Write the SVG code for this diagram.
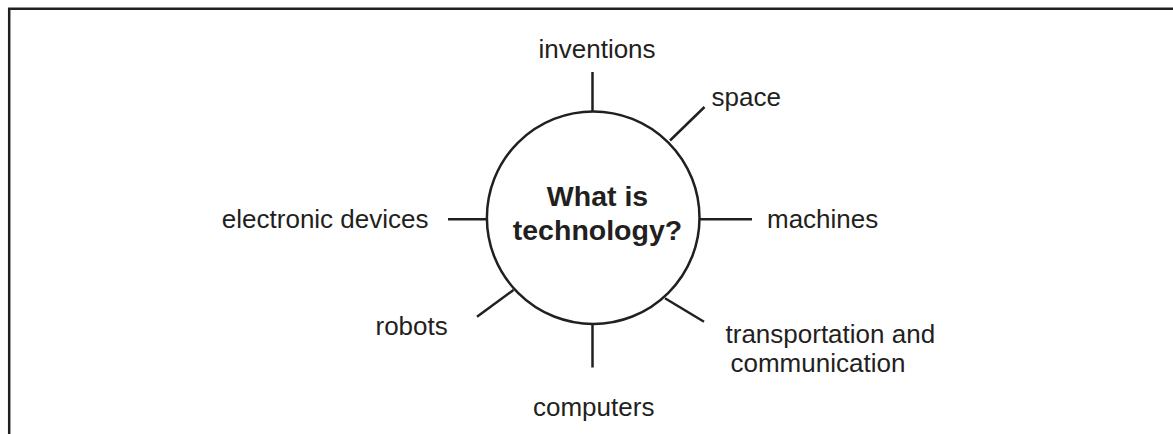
<svg xmlns="http://www.w3.org/2000/svg" width="1173" height="434" viewBox="0 0 1173 434">
<style>
.ln{stroke:#231f20;stroke-width:2.5;fill:none;stroke-linecap:butt}
.t{font-family:"Liberation Sans",Arial,sans-serif;font-size:26px;fill:#231f20}
.b{font-family:"Liberation Sans",Arial,sans-serif;font-size:28.5px;font-weight:bold;fill:#231f20;text-anchor:middle}
</style>
<rect width="1173" height="434" fill="#ffffff"/>
<path class="ln" d="M9.2,434 V8.8 H1173"/>
<g id="connectors">
<line class="ln" x1="592.5" y1="72" x2="592.5" y2="111.5"/>
<line class="ln" x1="670" y1="140.5" x2="704.5" y2="107"/>
<line class="ln" x1="699.5" y1="219.3" x2="752" y2="219.3"/>
<line class="ln" x1="448" y1="219.3" x2="487" y2="219.3"/>
<line class="ln" x1="513.5" y1="290" x2="477" y2="316.7"/>
<line class="ln" x1="592.5" y1="324" x2="592.5" y2="367.5"/>
<line class="ln" x1="665" y1="298.3" x2="704" y2="321.7"/>
</g>
<g id="center">
<circle class="ln" cx="593.2" cy="217.7" r="106.3"/>
<text class="b" x="597.5" y="206">What is</text>
<text class="b" x="597.5" y="240">technology?</text>
</g>
<g id="inventions"><text class="t" x="538.5" y="58">inventions</text></g>
<g id="space"><text class="t" x="711.5" y="105.5">space</text></g>
<g id="machines"><text class="t" x="767" y="228.3">machines</text></g>
<g id="electronic-devices"><text class="t" x="428.5" y="228.3" text-anchor="end">electronic devices</text></g>
<g id="robots"><text class="t" x="375.5" y="335">robots</text></g>
<g id="computers"><text class="t" x="533" y="415.5">computers</text></g>
<g id="transportation"><text class="t" x="725.5" y="343">transportation and</text><text class="t" x="730.5" y="371.5">communication</text></g>
</svg>
